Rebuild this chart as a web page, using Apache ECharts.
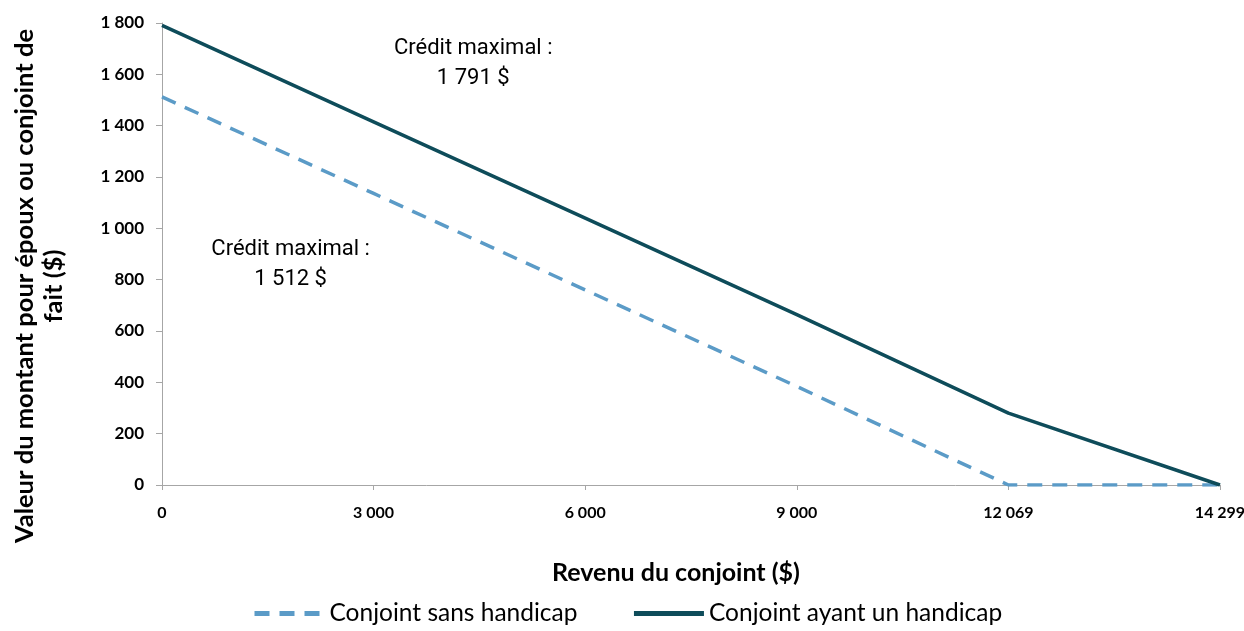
<!DOCTYPE html>
<html><head><meta charset="utf-8">
<script src="https://cdn.jsdelivr.net/npm/echarts@6/dist/echarts.min.js"></script>
<style>html,body{margin:0;padding:0;background:#fff;overflow:hidden}#c{width:1244px;height:631px}</style>
</head><body><div id="c"></div>
<script>
var categories = ['0', '3 000', '6 000', '9 000', '12 069', '14 299'];
var sansHandicap = [1512, 1136, 760, 384, 0, 0];
var avecHandicap = [1791, 1415, 1040, 664, 280, 0];
var seriesNames = ['Conjoint sans handicap', 'Conjoint ayant un handicap'];
var xTitle = 'Revenu du conjoint ($)';
var yTitle = 'Valeur du montant pour époux ou conjoint de\nfait ($)';
var annotations = [
  {lines: ['Crédit maximal :', '1 791 $'], cat: '6 000', value: 1644, dx: -112},
  {lines: ['Crédit maximal :', '1 512 $'], cat: '3 000', value: 861, dx: -83}
];

var chart = echarts.init(document.getElementById('c'));
var font = 'Lato, sans-serif';
function fmt(v){ return String(v).replace(/\B(?=(\d{3})+(?!\d))/g, ' '); }
var option = {
  animation: false,
  grid: {left: 162, right: 24, top: 23, bottom: 146, containLabel: false, outerBoundsMode: 'none'},
  xAxis: {
    type: 'category', data: categories, boundaryGap: false,
    axisLine: {lineStyle: {color: '#A6A6A6', width: 1}},
    axisTick: {show: true, length: 5, lineStyle: {color: '#A6A6A6'}},
    axisLabel: {color: '#000', fontWeight: 'bold', fontSize: 16, fontFamily: font, margin: 20}
  },
  yAxis: {
    type: 'value', min: 0, max: 1800, interval: 200,
    splitLine: {show: false},
    axisLine: {show: true, lineStyle: {color: '#A6A6A6', width: 1}},
    axisTick: {show: true, length: 6, lineStyle: {color: '#A6A6A6'}},
    axisLabel: {color: '#000', fontWeight: 'bold', fontSize: 17, fontFamily: font, margin: 18, formatter: fmt}
  },
  legend: {
    top: 601, left: 252, padding: 0, itemWidth: 70, itemHeight: 6, itemGap: 54,
    textStyle: {fontSize: 24.5, color: '#000', fontFamily: font},
    itemStyle: {opacity: 0},
    lineStyle: {width: 5},
    data: seriesNames
  },
  series: [
    {name: seriesNames[0], type: 'line', data: sansHandicap, symbol: 'none',
     lineStyle: {color: '#5B9BC7', width: 3.5, type: [15, 10]}, itemStyle: {color: '#5B9BC7'}},
    {name: seriesNames[1], type: 'line', data: avecHandicap, symbol: 'none',
     lineStyle: {color: '#0E4C5A', width: 3.5}, itemStyle: {color: '#0E4C5A'}}
  ]
};
chart.setOption(option);

var g = [{
  type: 'text', x: 39, y: 286, rotation: Math.PI / 2,
  style: {text: yTitle, align: 'center', verticalAlign: 'middle',
    fontSize: 25.5, fontWeight: 'bold', fill: '#000', fontFamily: font, lineHeight: 29}
}, {
  type: 'text', x: 676, y: 573,
  style: {text: xTitle, align: 'center', verticalAlign: 'middle',
    fontSize: 25, fontWeight: 'bold', fill: '#000', fontFamily: font}
}];
annotations.forEach(function(a){
  var p = chart.convertToPixel({gridIndex: 0}, [a.cat, a.value]);
  g.push({type: 'text', x: p[0] + a.dx, y: p[1],
    style: {text: a.lines.join('\n'), align: 'center', verticalAlign: 'middle', fontSize: 22,
      fill: '#000', fontFamily: 'Roboto, "Liberation Sans", sans-serif', lineHeight: 30}});
});
chart.setOption({graphic: g});
</script></body></html>
